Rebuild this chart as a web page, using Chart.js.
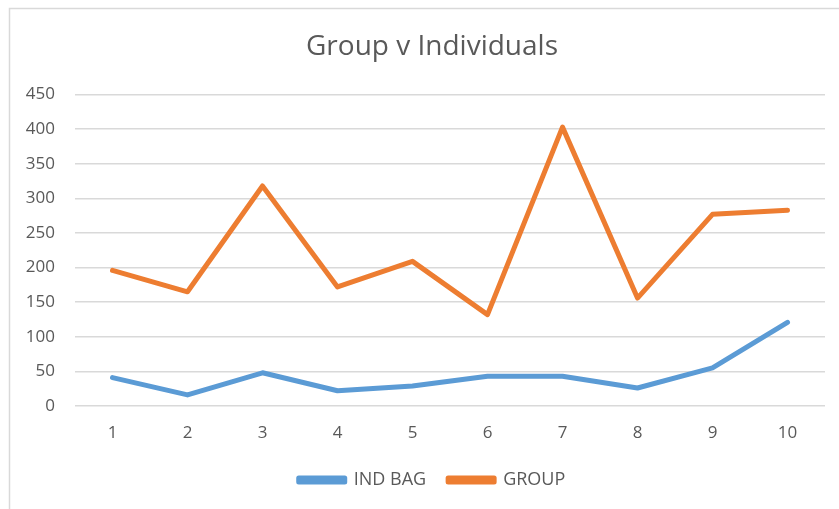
<!DOCTYPE html>
<html>
<head>
<meta charset="utf-8">
<script src="https://cdn.jsdelivr.net/npm/chart.js@4.4.1/dist/chart.umd.min.js"></script>
<style>
  html, body { margin: 0; padding: 0; background: #fff; }
  #wrap { width: 839px; height: 509px; position: relative; }
</style>
</head>
<body>
<div id="wrap"><canvas id="groupChart"></canvas></div>
<script>
// data
const categories = ['1', '2', '3', '4', '5', '6', '7', '8', '9', '10'];
const indBag = [41, 16, 48, 22, 29, 43, 43, 26, 55, 121];
const group = [196, 165, 318, 172, 209, 132, 403, 156, 277, 283];
const yTicks = [0, 50, 100, 150, 200, 250, 300, 350, 400, 450];

const textColor = '#595959';
const gridColor = '#d9d9d9';

// thin frame on the left and top, like the cropped excel chart box
const framePlugin = {
    id: 'frame',
    afterLayout(chart) {
        // let the y tick labels spill into the left padding instead of being clipped
        chart.scales.y.left = 10;
    },
    beforeDraw(chart) {
        const c = chart.ctx;
        c.save();
        c.strokeStyle = gridColor;
        c.lineWidth = 1.5;
        c.beginPath();
        c.moveTo(9.5, chart.height);
        c.lineTo(9.5, 8.5);
        c.lineTo(chart.width, 8.5);
        c.stroke();
        c.restore();
    }
};

const ctx = document.getElementById('groupChart').getContext('2d');
new Chart(ctx, {
    type: 'line',
    data: {
        labels: categories,
        datasets: [
            {
                label: 'IND BAG',
                data: indBag,
                borderColor: '#5b9bd5',
                backgroundColor: '#5b9bd5',
                borderWidth: 5,
                pointRadius: 0,
                tension: 0,
                borderCapStyle: 'round',
                borderJoinStyle: 'round'
            },
            {
                label: 'GROUP',
                data: group,
                borderColor: '#ed7d31',
                backgroundColor: '#ed7d31',
                borderWidth: 5,
                pointRadius: 0,
                tension: 0,
                borderCapStyle: 'round',
                borderJoinStyle: 'round'
            }
        ]
    },
    options: {
        responsive: true,
        maintainAspectRatio: false,
        animation: false,
        // left padding > right so title and legend sit centred like the excel box
        layout: { padding: { left: 39, right: 14, top: 0, bottom: 10 } },
        plugins: {
            title: {
                display: true,
                text: 'Group v Individuals',
                color: textColor,
                font: { family: 'Open Sans', size: 28, weight: 'normal' },
                padding: { top: 30, bottom: 31 }
            },
            legend: {
                position: 'bottom',
                labels: {
                    color: textColor,
                    font: { family: 'Open Sans', size: 18 },
                    boxWidth: 46,
                    boxHeight: 4,
                    padding: 22
                }
            },
            tooltip: { enabled: false }
        },
        scales: {
            x: {
                offset: true,
                grid: { display: false, drawTicks: false },
                border: { display: false },
                ticks: {
                    color: textColor,
                    font: { family: 'Open Sans', size: 17 },
                    padding: 17,
                    maxRotation: 0
                },
                afterFit(scale) { scale.height = 43; }
            },
            y: {
                min: 0,
                max: 450,
                grid: { color: gridColor, lineWidth: 1.5, drawTicks: false },
                border: { display: false },
                afterBuildTicks(scale) {
                    scale.ticks = yTicks.map(v => ({ value: v }));
                },
                ticks: {
                    color: textColor,
                    font: { family: 'Open Sans', size: 17 },
                    padding: 20
                },
                afterFit(scale) { scale.width = 36; }
            }
        }
    },
    plugins: [framePlugin]
});
</script>
</body>
</html>
